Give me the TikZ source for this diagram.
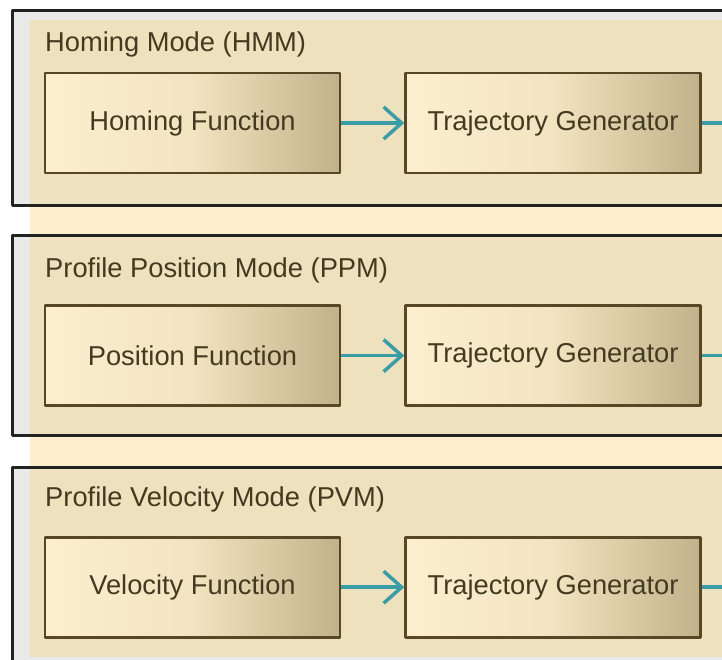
\documentclass[tikz,border=0pt]{standalone}
\usepackage{fontspec}
\setmainfont{Liberation Sans}
\usetikzlibrary{arrows.meta,positioning}
\definecolor{pane}{HTML}{E9E9EA}
\definecolor{sand}{HTML}{FDEFCE}
\definecolor{sanddark}{HTML}{EEE1BD}
\definecolor{frameline}{HTML}{222222}
\definecolor{boxline}{HTML}{574727}
\definecolor{boxlight}{HTML}{FCEFCF}
\definecolor{boxmid}{HTML}{F2E4C0}
\definecolor{boxdark}{HTML}{C2B28A}
\definecolor{ink}{HTML}{433A20}
\definecolor{flowteal}{HTML}{3A9CA4}
\begin{document}
\begin{tikzpicture}[x=1pt,y=-1pt, line join=round,
    frame/.style={draw=frameline, line width=3pt},
    title/.style={anchor=base west, inner sep=0pt, text=ink, font=\fontsize{27.3}{30}\selectfont},
    func/.style={draw=boxline, line width=2.6pt, left color=boxlight, right color=boxdark, middle color=boxmid,
        minimum width=295pt, minimum height=100pt, inner sep=0pt, text=ink, font=\fontsize{27.3}{30}\selectfont},
    flow/.style={draw=flowteal, line width=3.5pt, -{Straight Barb[length=18pt,width=32pt]}},
    stub/.style={draw=flowteal, line width=3.5pt}]
    \useasboundingbox (0,0) rectangle (722,659);
    \clip (0,0) rectangle (722,659);
    % panels and sand column
    \fill[white] (0,0) rectangle (722,659);
    \fill[pane] (12,10) rectangle (730,205);
    \fill[pane] (12,235) rectangle (730,435);
    \fill[pane] (12,467) rectangle (730,680);
    \fill[sand] (30,20) rectangle (730,657);
    \fill[sanddark] (30,20) rectangle (730,205);
    \fill[sanddark] (30,235) rectangle (730,435);
    \fill[sanddark] (30,467) rectangle (730,657);
    \draw[frame] (730,10) -- (12,10) -- (12,205) -- (730,205);
    \draw[frame] (730,235) -- (12,235) -- (12,435) -- (730,435);
    \draw[frame] (730,467) -- (12,467) -- (12,680);
    % titles
    \node[title] (hmmTitle) at (45,51) {Homing Mode (HMM)};
    \node[title] (ppmTitle) at (45,277) {Profile Position Mode (PPM)};
    \node[title] (pvmTitle) at (45,506) {Profile Velocity Mode (PVM)};
    % function blocks
    \node[func] (hmmFunc) at (192.5,123) {Homing Function};
    \node[func, right=63pt of hmmFunc] (hmmTraj) {Trajectory Generator};
    \node[func, below=130pt of hmmFunc] (ppmFunc) {Position Function};
    \node[func, right=63pt of ppmFunc] (ppmTraj) {Trajectory Generator};
    \node[func, below=129pt of ppmFunc] (pvmFunc) {Velocity Function};
    \node[func, right=63pt of pvmFunc] (pvmTraj) {Trajectory Generator};
    % connectors
    \draw[flow] (hmmFunc) -- (hmmTraj);
    \draw[flow] (ppmFunc) -- (ppmTraj);
    \draw[flow] (pvmFunc) -- (pvmTraj);
    \coordinate[right=40pt of hmmTraj.east] (hmmOut);
    \coordinate[right=40pt of ppmTraj.east] (ppmOut);
    \coordinate[right=40pt of pvmTraj.east] (pvmOut);
    \draw[stub] (hmmTraj) -- (hmmOut);
    \draw[stub] (ppmTraj) -- (ppmOut);
    \draw[stub] (pvmTraj) -- (pvmOut);
\end{tikzpicture}
\end{document}
